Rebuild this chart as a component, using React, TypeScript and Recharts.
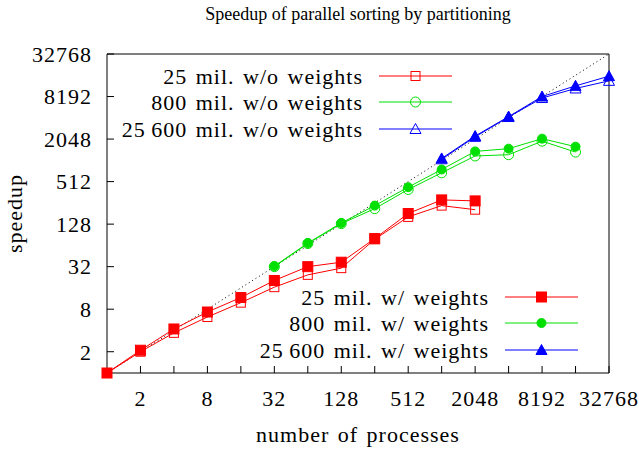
import { LineChart, Line, XAxis, YAxis, Label } from "recharts";

// processes (x) and speedup (y)
const procsSmall = [1, 2, 4, 8, 16, 32, 64, 128, 256, 512, 1024, 2048];
const speedup25wo = [1, 2, 3.7, 6.2, 9.9, 16.4, 24.5, 30.5, 78, 162, 234, 205];
const speedup25w = [1, 2.1, 4.2, 7.3, 11.7, 20.4, 32, 37, 80, 181, 282, 273];

const procsMid = [32, 64, 128, 256, 512, 1024, 2048, 4096, 8192, 16384];
const speedup800wo = [32, 68, 130, 212, 396, 682, 1180, 1230, 1913, 1340];
const speedup800w = [32.6, 69, 133, 234, 427, 760, 1370, 1497, 2076, 1597];

const procsLarge = [1024, 2048, 4096, 8192, 16384, 32768];
const speedup25600wo = [1060, 2200, 4200, 7800, 10650, 13660];
const speedup25600w = [1090, 2260, 4260, 8190, 11600, 15900];

const idealProcs = [1, 32768];

const xTicks = [1, 2, 3, 4, 5, 6, 7, 8, 9, 10, 11, 12, 13, 14, 15];
const yTicks = [1, 3, 5, 7, 9, 11, 13, 15];

const RED = "#ff0000";
const GREEN = "#00e000";
const BLUE = "#0000ff";
const FONT = "'Liberation Serif', 'Times New Roman', serif";

const toPoints = (xs: number[], ys: number[]) =>
    xs.map((x, i) => ({ x: Math.log2(x), y: Math.log2(ys[i]) }));

const fmt = (v: number) => (v % 2 === 1 ? String(Math.pow(2, v)) : "");

type Shape = "square" | "circle" | "triangle";

const marker = (shape: Shape, color: string, filled: boolean, cx: number, cy: number, key?: any) => {
    const fill = filled ? color : "none";
    if (shape === "square") {
        const s = filled ? 10 : 9;
        return <rect key={key} x={cx - s / 2} y={cy - s / 2} width={s} height={s} fill={fill} stroke={color} strokeWidth={1} />;
    }
    if (shape === "circle") {
        return <circle key={key} cx={cx} cy={cy} r={filled ? 4.5 : 5} fill={fill} stroke={color} strokeWidth={1} />;
    }
    const h = 9;
    return (
        <polygon
            key={key}
            points={`${cx},${cy - h / 2 - 1} ${cx - 5.5},${cy + h / 2} ${cx + 5.5},${cy + h / 2}`}
            fill={fill}
            stroke={color}
            strokeWidth={1}
        />
    );
};

const dotFor = (shape: Shape, color: string, filled: boolean) => (p: any) =>
    marker(shape, color, filled, p.cx, p.cy, p.index);

const series = [
    { name: "25 mil. w/o weights", data: toPoints(procsSmall, speedup25wo), color: RED, shape: "square" as Shape, filled: false },
    { name: "800 mil. w/o weights", data: toPoints(procsMid, speedup800wo), color: GREEN, shape: "circle" as Shape, filled: false },
    { name: "25\u2009600 mil. w/o weights", data: toPoints(procsLarge, speedup25600wo), color: BLUE, shape: "triangle" as Shape, filled: false },
    { name: "25 mil. w/ weights", data: toPoints(procsSmall, speedup25w), color: RED, shape: "square" as Shape, filled: true },
    { name: "800 mil. w/ weights", data: toPoints(procsMid, speedup800w), color: GREEN, shape: "circle" as Shape, filled: true },
    { name: "25\u2009600 mil. w/ weights", data: toPoints(procsLarge, speedup25600w), color: BLUE, shape: "triangle" as Shape, filled: true },
];

const LegendBox = ({ items, textRight, lineX1, lineX2, rows }: any) => (
    <g>
        {items.map((s: any, i: number) => (
            <g key={s.name}>
                <text
                    x={textRight + 1}
                    y={rows[i]}
                    dy="0.35em"
                    textAnchor="end"
                    fontSize={22}
                    letterSpacing={1}
                    wordSpacing={2}
                    fontFamily={FONT}
                    fill="#000"
                >
                    {s.name}
                </text>
                <line x1={lineX1} x2={lineX2} y1={rows[i]} y2={rows[i]} stroke={s.color} strokeWidth={1} />
                {marker(s.shape, s.color, s.filled, (lineX1 + lineX2) / 2, rows[i])}
            </g>
        ))}
    </g>
);

export default function App() {
    const tickStyle = { fontSize: 22, fontFamily: FONT, fill: "#000", letterSpacing: 1 };
    return (
        <div style={{ position: "absolute", left: 0, top: 0, width: 639, height: 452, background: "#fff" }}>
            <LineChart width={639} height={452} margin={{ top: 0, right: 0, bottom: 0, left: 0 }}>
                <XAxis
                    xAxisId="b"
                    dataKey="x"
                    type="number"
                    domain={[0, 15]}
                    ticks={xTicks}
                    interval={0}
                    tickFormatter={fmt}
                    tickSize={-7}
                    tickMargin={24}
                    height={79}
                    stroke="#000"
                    tick={tickStyle}
                    allowDuplicatedCategory={false}
                >
                    <Label
                        content={({ viewBox }: any) => (
                            <text
                                x={viewBox.x + viewBox.width / 2}
                                y={viewBox.y + viewBox.height - 10}
                                textAnchor="middle"
                                fontSize={22}
                                letterSpacing={1}
                                wordSpacing={2}
                                fontFamily={FONT}
                            >
                                number of processes
                            </text>
                        )}
                    />
                </XAxis>
                <XAxis
                    xAxisId="t"
                    orientation="top"
                    dataKey="x"
                    type="number"
                    domain={[0, 15]}
                    ticks={xTicks}
                    interval={0}
                    tickFormatter={() => ""}
                    tickSize={-7}
                    height={54}
                    stroke="#000"
                >
                    <Label
                        content={({ viewBox }: any) => (
                            <text x={viewBox.x + viewBox.width / 2} y={20} textAnchor="middle" fontSize={18} fontFamily={FONT}>
                                Speedup of parallel sorting by partitioning
                            </text>
                        )}
                    />
                </XAxis>
                <YAxis
                    yAxisId="l"
                    dataKey="y"
                    type="number"
                    domain={[0, 15]}
                    ticks={yTicks}
                    interval={0}
                    tickFormatter={(v: number) => String(Math.pow(2, v))}
                    tickSize={-7}
                    tickMargin={22}
                    width={107}
                    stroke="#000"
                    tick={tickStyle}
                >
                    <Label
                        content={({ viewBox }: any) => {
                            const cx = 22;
                            const cy = viewBox.y + viewBox.height / 2;
                            return (
                                <text
                                    x={cx}
                                    y={cy}
                                    textAnchor="middle"
                                    transform={`rotate(-90 ${cx} ${cy})`}
                                    fontSize={22}
                                    letterSpacing={1}
                                    fontFamily={FONT}
                                >
                                    speedup
                                </text>
                            );
                        }}
                    />
                </YAxis>
                <YAxis
                    yAxisId="r"
                    orientation="right"
                    dataKey="y"
                    type="number"
                    domain={[0, 15]}
                    ticks={yTicks}
                    interval={0}
                    tickFormatter={() => ""}
                    tickSize={-7}
                    width={30}
                    stroke="#000"
                />
                <Line
                    xAxisId="b"
                    yAxisId="l"
                    data={toPoints(idealProcs, idealProcs)}
                    dataKey="y"
                    stroke="#000"
                    strokeWidth={1}
                    strokeDasharray="1 3"
                    dot={false}
                    isAnimationActive={false}
                />
                {series.map((s) => (
                    <Line
                        key={s.name}
                        xAxisId="b"
                        yAxisId="l"
                        data={s.data}
                        dataKey="y"
                        name={s.name}
                        stroke={s.color}
                        strokeWidth={1}
                        dot={dotFor(s.shape, s.color, s.filled)}
                        activeDot={false}
                        isAnimationActive={false}
                    />
                ))}
            </LineChart>
            <svg width={639} height={452} style={{ position: "absolute", left: 0, top: 0, pointerEvents: "none" }}>
                <LegendBox items={series.slice(0, 3)} textRight={362} lineX1={379} lineX2={452} rows={[76, 102, 129]} />
                <LegendBox items={series.slice(3)} textRight={488} lineX1={505} lineX2={578} rows={[297, 323, 350]} />
            </svg>
        </div>
    );
}
